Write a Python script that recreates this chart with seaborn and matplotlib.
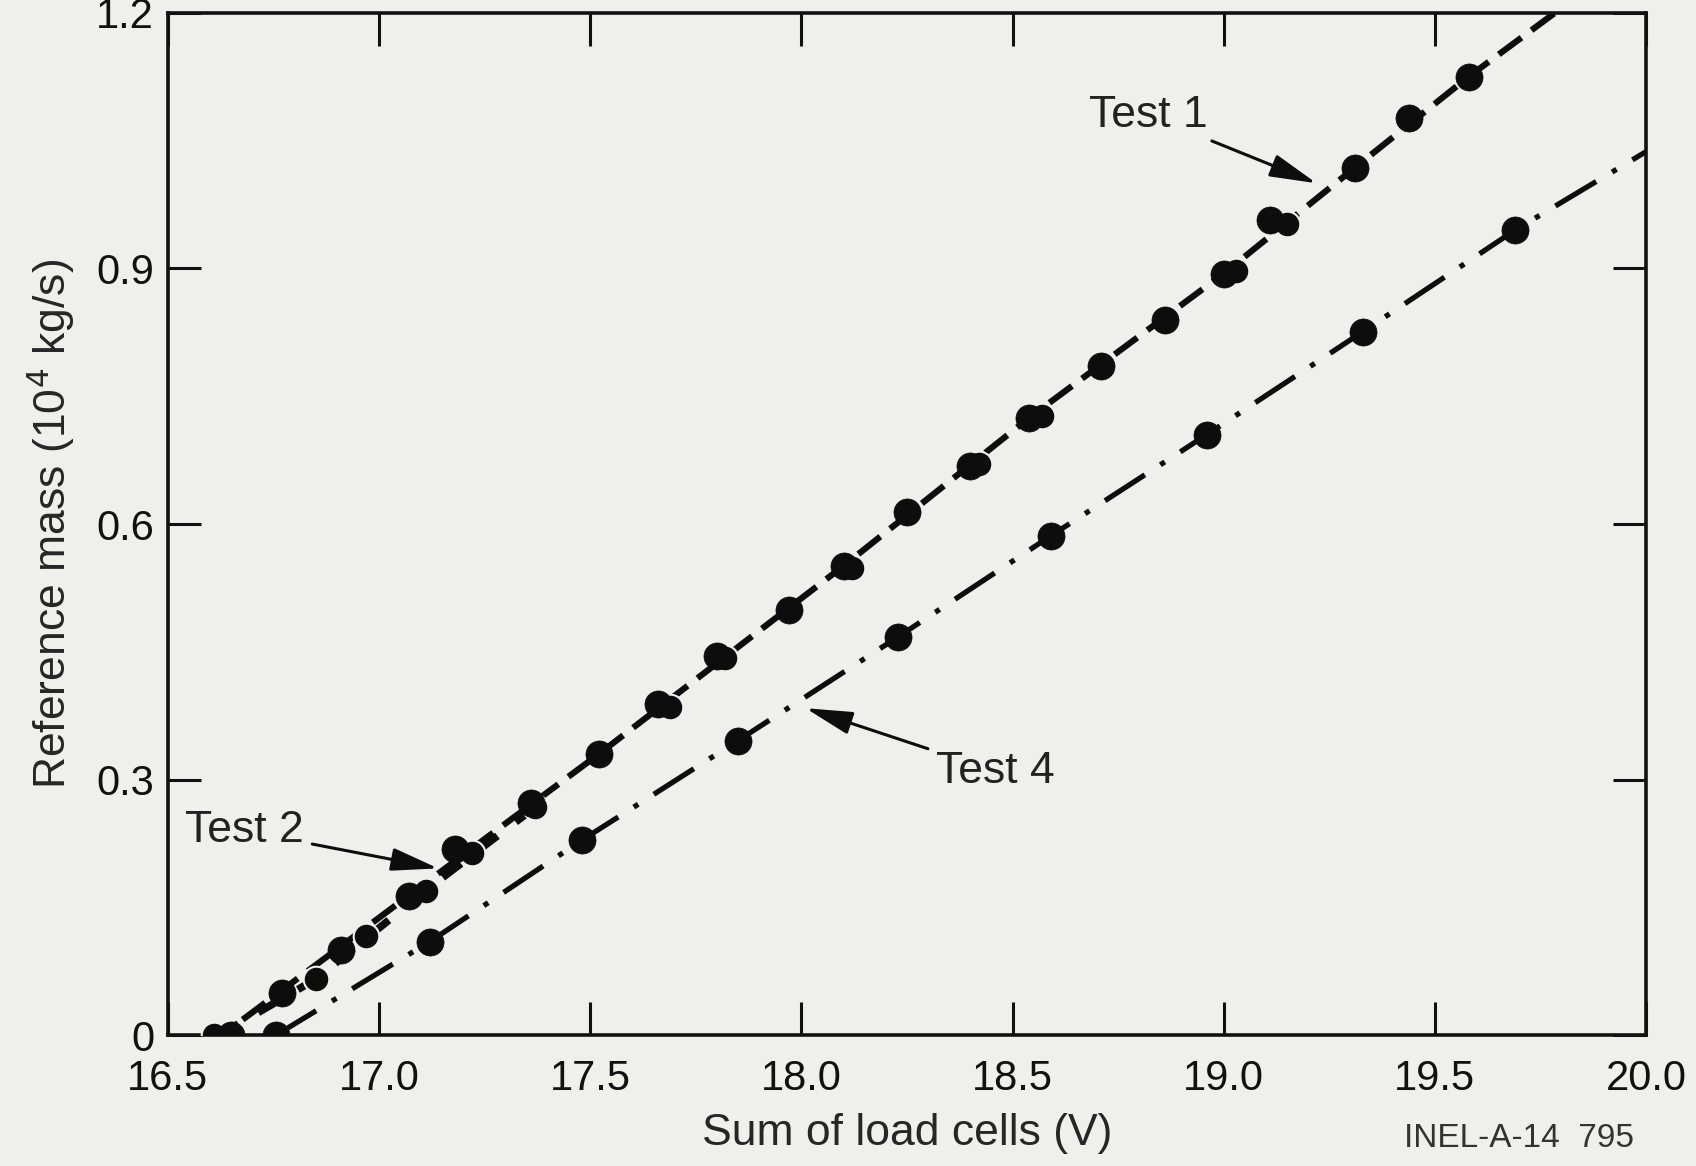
import numpy as np
import pandas as pd
import matplotlib
matplotlib.use("Agg")
import matplotlib.pyplot as plt
import seaborn as sns

# data (sum of load cells [V], reference mass [10^4 kg/s])
test1_x = [16.65, 16.77, 16.91, 17.07, 17.18, 17.36, 17.52, 17.66, 17.80, 17.97,
           18.10, 18.25, 18.40, 18.54, 18.71, 18.86, 19.00, 19.11, 19.31, 19.44, 19.58]
test1_y = [0.00, 0.050, 0.100, 0.164, 0.219, 0.273, 0.330, 0.389, 0.445, 0.499,
           0.551, 0.614, 0.668, 0.725, 0.786, 0.840, 0.894, 0.957, 1.018, 1.076, 1.125]
test1_line_x = [16.60, 17.07, 17.52, 18.10, 18.54, 19.00, 19.31, 19.58, 19.88]
test1_line_y = [-0.01, 0.164, 0.330, 0.551, 0.725, 0.894, 1.018, 1.125, 1.235]

test2_x = [16.61, 16.85, 16.97, 17.11, 17.22, 17.37, 17.69, 17.82, 18.12, 18.42, 18.57, 19.03, 19.15]
test2_y = [0.00, 0.066, 0.117, 0.170, 0.214, 0.268, 0.385, 0.443, 0.549, 0.670, 0.727, 0.897, 0.952]
test2_line_x = [16.62, 16.85, 17.11, 17.37]
test2_line_y = [0.00, 0.066, 0.170, 0.268]

test4_x = [16.755, 17.12, 17.48, 17.85, 18.23, 18.59, 18.96, 19.33, 19.69]
test4_y = [0.000, 0.110, 0.229, 0.346, 0.468, 0.586, 0.705, 0.826, 0.945]
test4_line_x = [16.755, 17.12, 17.48, 17.85, 18.23, 18.59, 18.96, 19.33, 19.69, 20.0]
test4_line_y = [0.000, 0.110, 0.229, 0.346, 0.468, 0.586, 0.705, 0.826, 0.945, 1.037]

x_ticks = [16.5, 17.0, 17.5, 18.0, 18.5, 19.0, 19.5, 20.0]
x_tick_labels = ["16.5", "17.0", "17.5", "18.0", "18.5", "19.0", "19.5", "20.0"]
y_ticks = [0, 0.3, 0.6, 0.9, 1.2]
y_tick_labels = ["0", "0.3", "0.6", "0.9", "1.2"]

sns.set_theme(style="ticks")
bg = "#efefec"
plt.rcParams.update({
    "font.family": ["Liberation Sans", "DejaVu Sans"],
    "figure.facecolor": bg,
    "axes.facecolor": bg,
    "savefig.facecolor": bg,
    "axes.edgecolor": "#111111",
    "text.color": "#222222",
    "xtick.color": "#111111",
    "ytick.color": "#111111",
})

fig = plt.figure(figsize=(16.96, 11.66), dpi=100)
ax = fig.add_axes([0.099, 0.112, 0.8715, 0.877])

ink = "#0d0d0d"

# fitted curves
sns.lineplot(x=test1_line_x, y=test1_line_y, ax=ax, color=ink, linewidth=4.5,
             sort=False, estimator=None)
ax.lines[-1].set_dashes([4.5, 2])
sns.lineplot(x=test2_line_x, y=test2_line_y, ax=ax, color=ink, linewidth=5.5,
             sort=False, estimator=None)
ax.lines[-1].set_dashes([3, 3])
sns.lineplot(x=test4_line_x, y=test4_line_y, ax=ax, color=ink, linewidth=3.8,
             sort=False, estimator=None)
ax.lines[-1].set_dashes([9, 3.5, 1, 3.5])

# measured points
sns.scatterplot(x=test2_x, y=test2_y, ax=ax, s=340, color=ink, edgecolor=bg, linewidth=1.5, zorder=3)
sns.scatterplot(x=test1_x, y=test1_y, ax=ax, s=380, color=ink, edgecolor=ink, linewidth=0.5, zorder=4)
sns.scatterplot(x=test4_x, y=test4_y, ax=ax, s=380, color=ink, edgecolor=ink, linewidth=0.5, zorder=4)

ax.set_xlim(16.5, 20.0)
ax.set_ylim(0, 1.2)
ax.set_xticks(x_ticks)
ax.set_xticklabels(x_tick_labels)
ax.set_yticks(y_ticks)
ax.set_yticklabels(y_tick_labels)
ax.tick_params(axis="both", direction="in", length=24, width=2.2, labelsize=30,
               top=True, right=True)
ax.tick_params(axis="x", pad=17)
ax.tick_params(axis="y", pad=10)
for sp in ax.spines.values():
    sp.set_linewidth(2.6)
    sp.set_visible(True)

ax.set_xlabel("Sum of load cells (V)", fontsize=32, labelpad=10)
ax.set_ylabel("Reference mass (10$^4$ kg/s)", fontsize=32, labelpad=14)

arrow = dict(arrowstyle="-|>,head_length=0.9,head_width=0.22", color=ink, lw=2.2,
             shrinkA=4, shrinkB=0)
ax.annotate("Test 1", xy=(19.22, 1.0), xytext=(18.68, 1.08), fontsize=32,
            ha="left", va="center", arrowprops=arrow)
ax.annotate("Test 2", xy=(17.14, 0.196), xytext=(16.54, 0.24), fontsize=32,
            ha="left", va="center", arrowprops=arrow)
ax.annotate("Test 4", xy=(18.01, 0.384), xytext=(18.32, 0.31), fontsize=32,
            ha="left", va="center", arrowprops=arrow)

fig.text(0.828, 0.016, "INEL-A-14  795", fontsize=24, color="#333333", ha="left")

fig.savefig("out.png", dpi=100)
